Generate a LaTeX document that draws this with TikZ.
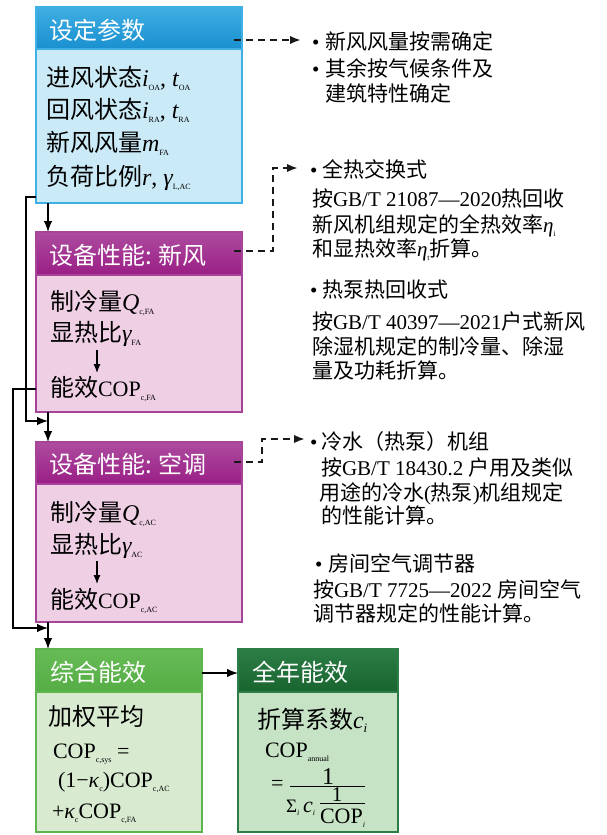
\documentclass[tikz,border=0pt]{standalone}
\usepackage{fontspec}
\setmainfont{Noto Sans CJK SC}
\newfontfamily\tnr{Liberation Serif}
\usetikzlibrary{arrows.meta}
\definecolor{bluet}{HTML}{3FAEE2}
\definecolor{blueb}{HTML}{1A90D0}
\definecolor{bluebd}{HTML}{CBEAF7}
\definecolor{bluebr}{HTML}{3FB0E3}
\definecolor{purpt}{HTML}{AD4C9F}
\definecolor{purpb}{HTML}{9A1E86}
\definecolor{purpbd}{HTML}{EFCFE4}
\definecolor{purpbr}{HTML}{A6449A}
\definecolor{gonet}{HTML}{67BB56}
\definecolor{goneb}{HTML}{55AD45}
\definecolor{gonebd}{HTML}{D8EBD1}
\definecolor{gonebr}{HTML}{5EB54D}
\definecolor{gtwot}{HTML}{2C7D46}
\definecolor{gtwob}{HTML}{19642F}
\definecolor{gtwobd}{HTML}{C6E3C6}
\definecolor{gtwobr}{HTML}{2D7D46}
\newcommand\lt[1]{{\tnr #1}}
\newcommand\var[1]{{\tnr\itshape #1}}
\newcommand\sbs[1]{\raisebox{-4pt}{\fontsize{8}{8}\selectfont\tnr #1}}
\newcommand\bul[1]{\makebox[#1][l]{\tnr •}}
\newcommand\hdf{\fontsize{24}{28}\selectfont}
\newcommand\bdf{\fontsize{24}{28}\selectfont}
\newcommand\rtf{\fontsize{21}{25}\selectfont}
\newcommand\cpf{\fontsize{22}{26}\selectfont}
\tikzset{
  boxbody/.style={anchor=north west, rectangle, inner sep=0pt, outer sep=0pt, line width=1.2pt},
  boxhead/.style={anchor=north west, rectangle, inner sep=0pt, outer sep=0pt, line width=1.2pt},
  txt/.style={anchor=base west, inner sep=0pt, outer sep=0pt},
  htxt/.style={txt, font=\hdf, text=white},
  btxt/.style={txt, font=\bdf},
  rtxt/.style={txt, font=\rtf},
  arr/.style={-{Latex[length=11pt,width=8.5pt]}, line width=1.2pt, black},
  sarr/.style={-{Latex[length=9pt,width=7pt]}, line width=1.2pt, black},
  darr/.style={-{Latex[length=11pt,width=8.5pt]}, line width=2.2pt, dash pattern=on 7pt off 5pt, black!90},
}
\begin{document}
\begin{tikzpicture}[x=1pt,y=-1pt]
\useasboundingbox (0,0) rectangle (606,835);

% ---------- boxes ----------
\node[boxbody, fill=bluebd, draw=bluebr, minimum width=206pt, minimum height=196pt] (b1) at (36,7) {};
\node[boxhead, top color=bluet, bottom color=blueb, draw=bluebr, minimum width=206pt, minimum height=42pt] (h1) at (36,7) {};

\node[boxbody, fill=purpbd, draw=purpbr, minimum width=206pt, minimum height=180pt] (b2) at (36,232) {};
\node[boxhead, top color=purpt, bottom color=purpb, draw=purpbr, minimum width=206pt, minimum height=43pt] (h2) at (36,232) {};

\node[boxbody, fill=purpbd, draw=purpbr, minimum width=206pt, minimum height=180pt] (b3) at (36,442) {};
\node[boxhead, top color=purpt, bottom color=purpb, draw=purpbr, minimum width=206pt, minimum height=42pt] (h3) at (36,442) {};

\node[boxbody, fill=gonebd, draw=gonebr, minimum width=166pt, minimum height=183pt] (b4) at (36,649) {};
\node[boxhead, top color=gonet, bottom color=goneb, draw=gonebr, minimum width=166pt, minimum height=43pt] (h4) at (36,649) {};

\node[boxbody, fill=gtwobd, draw=gtwobr, minimum width=160pt, minimum height=183pt] (b5) at (238,649) {};
\node[boxhead, top color=gtwot, bottom color=gtwob, draw=gtwobr, minimum width=160pt, minimum height=43pt] (h5) at (238,649) {};

% ---------- box 1 text ----------
\node[htxt] (h1t) at (49,39) {设定参数};
\node[btxt] (l11) at (46,86) {进风状态\var{i}\sbs{OA}\lt{, }\var{t}\sbs{OA}};
\node[btxt] (l12) at (46,118) {回风状态\var{i}\sbs{RA}\lt{, }\var{t}\sbs{RA}};
\node[btxt] (l13) at (46,151) {新风风量\var{m}\sbs{FA}};
\node[btxt] (l14) at (46,185) {负荷比例\var{r}\lt{, }\var{γ}\sbs{L,AC}};

% ---------- box 2 text ----------
\node[htxt] (h2t) at (49,264) {设备性能: 新风};
\node[btxt] (l21) at (50,310) {制冷量\var{Q}\sbs{c,FA}};
\node[btxt] (l22) at (50,341) {显热比\var{γ}\sbs{FA}};
\node[btxt] (l23) at (50,396) {能效{\tnr\cpf COP}\sbs{c,FA}};
\coordinate (s2a) at (97,350);
\coordinate (s2b) at (97,373);
\draw[sarr] (s2a) -- (s2b);

% ---------- box 3 text ----------
\node[htxt] (h3t) at (49,473) {设备性能: 空调};
\node[btxt] (l31) at (50,521) {制冷量\var{Q}\sbs{c,AC}};
\node[btxt] (l32) at (50,553) {显热比\var{γ}\sbs{AC}};
\node[btxt] (l33) at (50,608) {能效{\tnr\cpf COP}\sbs{c,AC}};
\coordinate (s3a) at (97,561);
\coordinate (s3b) at (97,584);
\draw[sarr] (s3a) -- (s3b);

% ---------- box 4 text ----------
\node[htxt] (h4t) at (50,681) {综合能效};
\node[btxt] (l41) at (48,725) {加权平均};
\node[txt, font=\cpf] (l42) at (53,758) {\lt{COP}\sbs{c,sys}\lt{ =}};
\node[txt, font=\cpf] (l43) at (58,787) {\lt{(1−}\var{κ}\sbs{c}\lt{)COP}\sbs{c,AC}};
\node[txt, font=\cpf] (l44) at (52,818) {\lt{+}\var{κ}\sbs{c}\lt{COP}\sbs{c,FA}};

% ---------- box 5 text ----------
\node[htxt] (h5t) at (252,681) {全年能效};
\node[btxt] (l51) at (257,728) {折算系数\var{c}\raisebox{-4pt}{\fontsize{13}{13}\selectfont\var{i}}};
\node[txt, font=\cpf] (l52) at (265,757) {\lt{COP}\sbs{annual}};
\node[txt, font=\cpf] (eq) at (271,790) {\lt{=}};
\node[anchor=base, inner sep=0pt, font=\fontsize{24}{26}\selectfont] (num) at (328,784) {\lt{1}};
\coordinate (fb1) at (290,786.5);
\coordinate (fb2) at (365,786.5);
\draw[line width=1.2pt] (fb1) -- (fb2);
\node[txt, font=\fontsize{19}{22}\selectfont] (sig) at (286,812) {\lt{Σ}\raisebox{-3pt}{\fontsize{8}{8}\selectfont\var{i}}};
\node[txt, font=\cpf] (ci) at (303,812) {\var{c}\raisebox{-3pt}{\fontsize{8}{8}\selectfont\var{i}}};
\node[anchor=base, inner sep=0pt, font=\fontsize{21}{22}\selectfont] (num2) at (337,801) {\lt{1}};
\coordinate (sb1) at (320,803.5);
\coordinate (sb2) at (365,803.5);
\draw[line width=1.1pt] (sb1) -- (sb2);
\node[txt, font=\cpf] (cop) at (320,823) {\lt{COP}\raisebox{-4pt}{\fontsize{8}{8}\selectfont\var{i}}};

% ---------- right-hand notes ----------
\node[rtxt] (r11) at (312,49) {\bul{13pt}新风风量按需确定};
\node[rtxt] (r12) at (312,76) {\bul{13pt}其余按气候条件及};
\node[rtxt] (r13) at (325,101) {建筑特性确定};

\node[rtxt] (r21) at (310,177) {\bul{12pt}全热交换式};
\node[rtxt] (r22) at (312,206) {按\lt{GB/T 21087—2020}热回收};
\node[rtxt] (r23) at (312,232) {新风机组规定的全热效率\var{η}\sbs{i}};
\node[rtxt] (r24) at (312,256) {和显热效率\var{η}\sbs{t}折算。};
\node[rtxt] (r25) at (310,297) {\bul{12pt}热泵热回收式};
\node[rtxt] (r26) at (312,329) {按\lt{GB/T 40397—2021}户式新风};
\node[rtxt] (r27) at (312,354) {除湿机规定的制冷量、除湿};
\node[rtxt] (r28) at (312,378) {量及功耗折算。};

\node[rtxt] (r31) at (310,449) {\bul{11pt}冷水（热泵）机组};
\node[rtxt] (r32) at (321,475) {按\lt{GB/T 18430.2 }户用及类似};
\node[rtxt] (r33) at (319,500) {用途的冷水\lt{(}热泵\lt{)}机组规定};
\node[rtxt] (r34) at (321,523) {的性能计算。};
\node[rtxt] (r35) at (315,571) {\bul{13pt}房间空气调节器};
\node[rtxt] (r36) at (313,597) {按\lt{GB/T 7725—2022 }房间空气};
\node[rtxt] (r37) at (313,621) {调节器规定的性能计算。};

% ---------- solid connectors ----------
\coordinate (x48) at (48,0);
\draw[arr] (b1.south -| x48) -- (b2.north -| x48);
\draw[arr] (b2.south -| x48) -- (b3.north -| x48);
\draw[arr] (b3.south -| x48) -- (b4.north -| x48);
\coordinate (j1) at (26,197);
\coordinate (j2) at (26,421);
\coordinate (j3) at (48,421);
\draw[arr] (b1.west |- j1) -- (j1) -- (j2) -- (j3);
\coordinate (k1) at (13,389);
\coordinate (k2) at (13,628);
\coordinate (k3) at (48,628);
\draw[arr] (b2.west |- k1) -- (k1) -- (k2) -- (k3);
\coordinate (m1) at (202,673);
\draw[arr] (b4.east |- m1) -- (b5.west |- m1);

% ---------- dashed connectors ----------
\coordinate (d1s) at (234,40);
\coordinate (d1e) at (301,40);
\draw[darr] (d1s) -- (d1e);
\coordinate (d2s) at (234,251);
\coordinate (d2m) at (273,251);
\coordinate (d2n) at (273,168);
\coordinate (d2e) at (298,168);
\draw[darr] (d2s) -- (d2m) -- (d2n) -- (d2e);
\coordinate (d3s) at (234,462);
\coordinate (d3m) at (262,462);
\coordinate (d3n) at (262,439);
\coordinate (d3e) at (305,439);
\draw[darr] (d3s) -- (d3m) -- (d3n) -- (d3e);
\end{tikzpicture}
\end{document}
